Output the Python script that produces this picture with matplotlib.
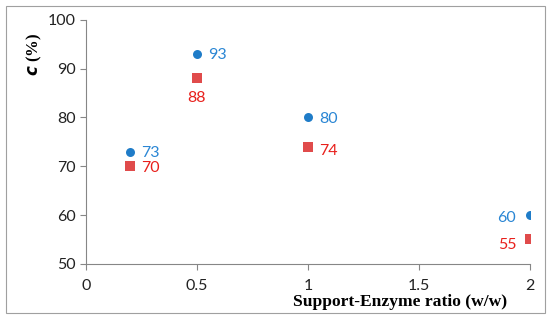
import matplotlib.pyplot as plt
from matplotlib.patches import Rectangle

ratio = [0.2, 0.5, 1.0, 2.0]
conv_blue = [73, 93, 80, 60]
conv_red = [70, 88, 74, 55]

# label offsets in points (dx, dy) for each point
blue_off = [(8, -1), (8, -1), (8, -1), (-10, -2)]
red_off = [(8, -1), (0, -14), (8, -3), (-10, -4)]
blue_ha = ['left', 'left', 'left', 'right']
red_ha = ['left', 'center', 'left', 'right']

plt.rcParams['font.family'] = ['Lato', 'DejaVu Sans']

fig = plt.figure(figsize=(5.5, 3.21), dpi=100)
ax = fig.add_axes([0.156, 0.178, 0.808, 0.76])

ax.scatter(ratio, conv_blue, marker='o', s=42, color='#1f7cc8', zorder=3, linewidths=0)
ax.scatter(ratio, conv_red, marker='s', s=42, color='#e04b4b', zorder=3, linewidths=0)

for x, y, (dx, dy), ha in zip(ratio, conv_blue, blue_off, blue_ha):
    ax.annotate(str(y), (x, y), xytext=(dx, dy), textcoords='offset points',
                ha=ha, va='center', fontsize=11.5, color='#2a86d4')
for x, y, (dx, dy), ha in zip(ratio, conv_red, red_off, red_ha):
    ax.annotate(str(y), (x, y), xytext=(dx, dy), textcoords='offset points',
                ha=ha, va='center', fontsize=11.5, color='#e8201c')

ax.set_xlim(0, 2)
ax.set_ylim(50, 100)
ax.set_xticks([0, 0.5, 1, 1.5, 2])
ax.set_xticklabels(['0', '0.5', '1', '1.5', '2'])
ax.set_yticks(range(50, 101, 10))

for s in ['top', 'right']:
    ax.spines[s].set_visible(False)
for s in ['left', 'bottom']:
    ax.spines[s].set_color('#868686')
ax.tick_params(direction='out', length=4, color='#868686', labelsize=11.5, labelcolor='#222222')
ax.tick_params(axis='x', pad=7)

ax.set_xlabel('Support-Enzyme ratio (w/w)', family='Liberation Serif', fontweight='bold',
              fontsize=12.6)
ax.set_ylabel(r'$\mathbfit{c}$ (%)', family='Liberation Serif', fontweight='bold',
              fontsize=12)
ax.xaxis.set_label_coords(0.707, -0.125)
ax.yaxis.set_label_coords(-0.095, 0.86)

fig.patches.append(Rectangle((0.011, 0.025), 0.98, 0.955, transform=fig.transFigure,
                             fill=False, edgecolor='#a0a0a0', linewidth=0.8))

fig.savefig('out.png', dpi=100)
